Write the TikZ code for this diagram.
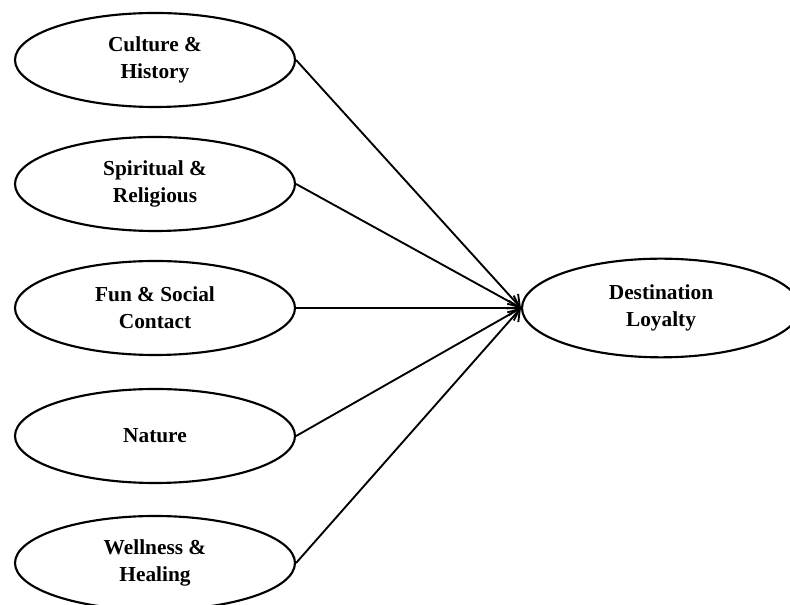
\documentclass[tikz,border=0pt]{standalone}
\usepackage{fontspec}
\setmainfont{Liberation Serif}
\usetikzlibrary{shapes.geometric,arrows.meta}
\begin{document}
\begin{tikzpicture}[x=0.75pt,y=-0.75pt,
  factor/.style={ellipse,draw,line width=1.6pt,minimum width=210pt,minimum height=70.5pt,inner sep=0pt,align=center,font=\fontsize{16pt}{20pt}\selectfont\bfseries},
  link/.style={line width=1.4pt,-{Straight Barb[length=8pt,width=11pt,line width=1.4pt]}}]
\clip (0,0) rectangle (790,605);
\useasboundingbox (0,0) rectangle (790,605);
\node[factor] (ch) at (155,60) {Culture \&\\History};
\node[factor] (sr) at (155,184) {Spiritual \&\\Religious};
\node[factor] (fs) at (155,308) {Fun \& Social\\Contact};
\node[factor] (na) at (155,436) {Nature};
\node[factor] (wh) at (155,563) {Wellness \&\\Healing};
\node[factor,minimum width=208.5pt,minimum height=74pt] (dl) at (661,308) {Destination\\Loyalty};
\foreach \s in {ch,sr,fs,na,wh}
  \draw[link] (\s.east) -- (dl.west);
\end{tikzpicture}
\end{document}
